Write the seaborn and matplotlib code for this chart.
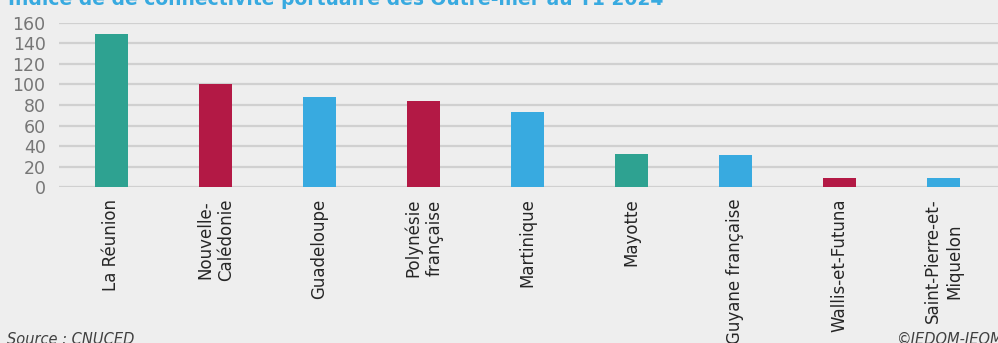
import pandas as pd
import seaborn as sns
import matplotlib.pyplot as plt

# Data
territoires = ['La Réunion', 'Nouvelle-\nCalédonie', 'Guadeloupe', 'Polynésie\nfrançaise',
               'Martinique', 'Mayotte', 'Guyane française', 'Wallis-et-Futuna',
               'Saint-Pierre-et-\nMiquelon']
indice = [149, 100, 88, 84, 73, 32.5, 31.5, 9, 9]
zone = ['Océan Indien', 'Pacifique', 'Atlantique', 'Pacifique', 'Atlantique',
        'Océan Indien', 'Atlantique', 'Pacifique', 'Atlantique']
yticks = [0, 20, 40, 60, 80, 100, 120, 140, 160]

df = pd.DataFrame({'territoire': territoires, 'indice': indice, 'zone': zone})
palette = {'Océan Indien': '#2EA291', 'Pacifique': '#B31945', 'Atlantique': '#38AAE0'}

bg = '#EEEEEE'
sns.set_style('white')
plt.rcParams['font.family'] = ['DejaVu Sans']

fig = plt.figure(figsize=(9.98, 3.43), dpi=100, facecolor=bg)
ax = fig.add_axes([0.0596, 0.4534, 0.9404, 0.481])
ax.set_facecolor(bg)

sns.barplot(data=df, x='territoire', y='indice', hue='zone', palette=palette,
            dodge=False, legend=False, width=0.317, saturation=1, linewidth=0,
            ax=ax, zorder=3)

ax.set_ylim(0, 160)
ax.set_xlim(-0.5, 8.524)
ax.set_yticks(yticks)
ax.yaxis.grid(True, color='#D0D0D0', linewidth=1.6, zorder=0)
ax.set_axisbelow(True)
for s in ax.spines.values():
    s.set_visible(False)
ax.set_xlabel('')
ax.set_ylabel('')
ax.tick_params(axis='y', length=0, labelsize=12.5, labelcolor='#767676', pad=10)
ax.tick_params(axis='x', length=0, pad=8)
for lab in ax.get_xticklabels():
    lab.set_rotation(90)
    lab.set_ha('center')
    lab.set_va('top')
    lab.set_multialignment('center')
    lab.set_fontsize(12)
    lab.set_color('#262626')

# Title (cropped at top in the original) and footers
fig.text(0.008, 0.985, 'Indice de de connectivité portuaire des Outre-mer au T1 2024',
         color='#38AAE0', fontsize=13.5, fontweight='bold', va='baseline', ha='left')
fig.text(0.007, 0.032, 'Source : CNUCED', fontsize=10.5, style='italic',
         color='#404040', va='top', ha='left')
fig.text(1.006, 0.032, '©IEDOM-IEOM', fontsize=10.5, style='italic',
         color='#404040', va='top', ha='right')

fig.savefig('out.png', dpi=100, facecolor=bg)
